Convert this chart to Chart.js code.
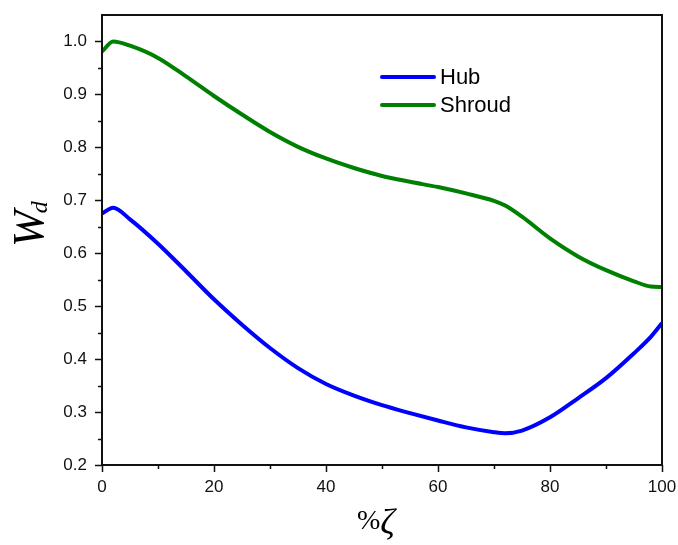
<!DOCTYPE html>
<html>
<head>
<meta charset="utf-8">
<script src="https://cdn.jsdelivr.net/npm/chart.js@4/dist/chart.umd.min.js"></script>
<style>
  html, body { margin: 0; padding: 0; background: #fff; }
  #wrap { width: 678px; height: 545px; }
</style>
</head>
<body>
<div id="wrap"><canvas id="chart"></canvas></div>
<script>
// values
const zeta = [0, 2, 5, 10, 15, 20, 25, 30, 35, 40, 45, 50, 55, 60, 65, 70, 72, 75, 80, 85, 90, 95, 98, 100]
const hub = [0.675, 0.686, 0.664, 0.618, 0.566, 0.513, 0.465, 0.421, 0.383, 0.353, 0.331, 0.313, 0.298, 0.284, 0.271, 0.262, 0.260, 0.265, 0.290, 0.326, 0.364, 0.411, 0.442, 0.468]
const shroud = [0.981, 1.000, 0.992, 0.969, 0.934, 0.897, 0.862, 0.829, 0.801, 0.779, 0.761, 0.746, 0.735, 0.725, 0.713, 0.699, 0.690, 0.669, 0.628, 0.594, 0.568, 0.547, 0.537, 0.536]
const xTicks = [0, 20, 40, 60, 80, 100]
const yTicks = [0.2, 0.3, 0.4, 0.5, 0.6, 0.7, 0.8, 0.9, 1.0]

const toPoints = (ys) => zeta.map((x, i) => ({ x: x, y: ys[i] }))

// drop the label overflow padding so the plot box sits where the reference has it
const noPad = (s) => {
  s.paddingLeft = 0
  s.paddingRight = 0
  s.paddingTop = 0
  s.paddingBottom = 0
}

// frame, ticks (major + minor) and axis titles
const decorations = {
  id: 'decorations',
  afterDraw(chart) {
    const { ctx, chartArea: a, scales } = chart
    const xs = scales.x, ys = scales.y
    ctx.save()
    ctx.strokeStyle = '#111'
    ctx.lineWidth = 2
    ctx.strokeRect(a.left, a.top, a.right - a.left, a.bottom - a.top)

    ctx.lineWidth = 1.5
    ctx.beginPath()
    for (let v = 0; v <= 100; v += 10) {
      const px = Math.round(xs.getPixelForValue(v)) + 0.5
      const len = v % 20 === 0 ? 7 : 4
      ctx.moveTo(px, a.bottom)
      ctx.lineTo(px, a.bottom + len)
    }
    for (let k = 4; k <= 20; k++) {
      const v = k * 0.05
      const py = Math.round(ys.getPixelForValue(v)) + 0.5
      const len = k % 2 === 0 ? 7 : 4
      ctx.moveTo(a.left, py)
      ctx.lineTo(a.left - len, py)
    }
    ctx.stroke()

    // y title: W_d (rotated)
    ctx.fillStyle = '#000'
    ctx.translate(43, 232)
    ctx.rotate(-Math.PI / 2)
    ctx.font = 'italic 44px "Liberation Serif", "DejaVu Serif", serif'
    ctx.textAlign = 'left'
    ctx.textBaseline = 'alphabetic'
    const wW = ctx.measureText('W').width
    ctx.fillText('W', -15, 0)
    ctx.font = 'italic 24px "Liberation Serif", "DejaVu Serif", serif'
    ctx.fillText('d', -15 + wW - 3, 4)
    ctx.restore()

    // x title: %ζ
    ctx.save()
    ctx.fillStyle = '#000'
    ctx.textBaseline = 'alphabetic'
    ctx.textAlign = 'left'
    ctx.font = '28px "Liberation Serif", "DejaVu Serif", serif'
    ctx.fillText('%', 357, 529)
    const pw = ctx.measureText('%').width
    ctx.font = 'italic 36px "Liberation Serif", "DejaVu Serif", serif'
    ctx.fillText('ζ', 357 + pw, 534)
    ctx.restore()
  }
}

new Chart(document.getElementById('chart'), {
  type: 'line',
  data: {
    datasets: [{
      label: 'Hub',
      data: toPoints(hub),
      borderColor: '#0000ff',
      backgroundColor: '#0000ff',
      borderWidth: 4,
      pointRadius: 0,
      cubicInterpolationMode: 'monotone'
    }, {
      label: 'Shroud',
      data: toPoints(shroud),
      borderColor: '#008000',
      backgroundColor: '#008000',
      borderWidth: 4,
      pointRadius: 0,
      cubicInterpolationMode: 'monotone'
    }]
  },
  options: {
    responsive: true,
    maintainAspectRatio: false,
    animation: false,
    layout: { padding: { left: 0, right: 16, top: 15, bottom: 0 } },
    plugins: {
      legend: { display: false },
      tooltip: { enabled: false }
    },
    scales: {
      x: {
        type: 'linear',
        min: 0,
        max: 100,
        afterBuildTicks: (s) => { s.ticks = xTicks.map(v => ({ value: v })) },
        afterFit: (s) => { s.height = 80; noPad(s) },
        grid: { display: false, drawTicks: false },
        border: { display: false },
        ticks: {
          color: '#111',
          padding: 12,
          font: { family: '"Liberation Sans", Arial, sans-serif', size: 17 }
        }
      },
      y: {
        type: 'linear',
        min: 0.2,
        max: 1.05,
        afterBuildTicks: (s) => { s.ticks = yTicks.map(v => ({ value: v })) },
        afterFit: (s) => { s.width = 102; noPad(s) },
        grid: { display: false, drawTicks: false },
        border: { display: false },
        ticks: {
          color: '#111',
          padding: 15,
          font: { family: '"Liberation Sans", Arial, sans-serif', size: 17 },
          callback: (v) => v.toFixed(1)
        }
      }
    }
  },
  plugins: [decorations, {
    id: 'inlineLegend',
    afterDraw(chart) {
      const { ctx } = chart
      ctx.save()
      ctx.font = '22px "Liberation Sans", Arial, sans-serif'
      ctx.textBaseline = 'middle'
      ctx.lineCap = 'round'
      ctx.lineWidth = 4
      chart.data.datasets.forEach((ds, i) => {
        const y = 77 + i * 28
        ctx.strokeStyle = ds.borderColor
        ctx.beginPath()
        ctx.moveTo(382, y)
        ctx.lineTo(434, y)
        ctx.stroke()
        ctx.fillStyle = '#000'
        ctx.fillText(ds.label, 440, y + 1)
      })
      ctx.restore()
    }
  }]
})
</script>
</body>
</html>
